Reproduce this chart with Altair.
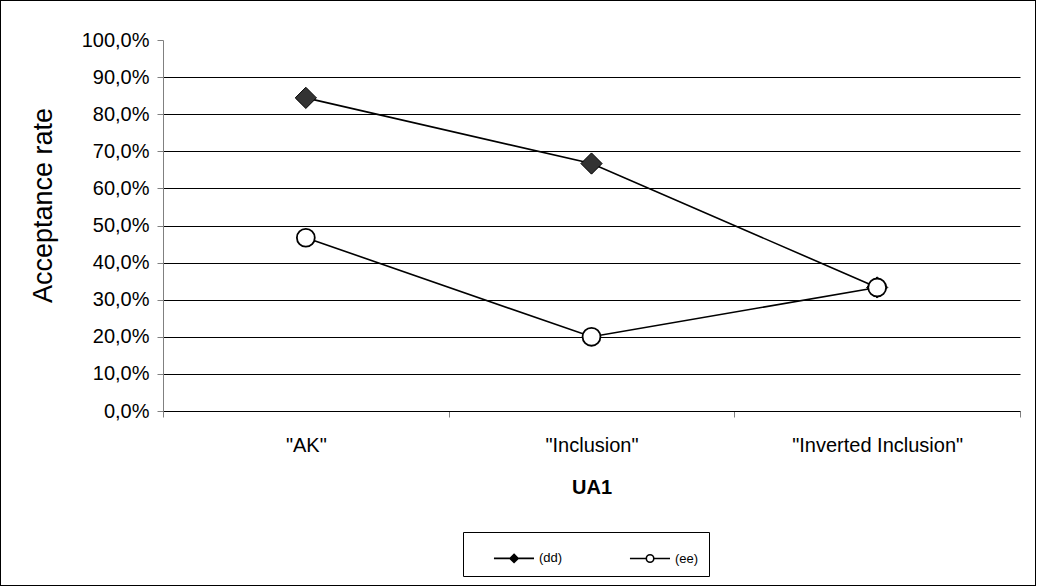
import altair as alt
import pandas as pd

categories = ['"AK"', '"Inclusion"', '"Inverted Inclusion"']
dd_values = [0.844, 0.667, 0.333]
ee_values = [0.467, 0.200, 0.333]
series_names = ["(dd)", "(ee)"]
y_ticks = [0.0, 0.1, 0.2, 0.3, 0.4, 0.5, 0.6, 0.7, 0.8, 0.9, 1.0]

rows = []
for c, v in zip(categories, dd_values):
    rows.append({"cat": c, "val": v, "series": series_names[0]})
for c, v in zip(categories, ee_values):
    rows.append({"cat": c, "val": v, "series": series_names[1]})
df = pd.DataFrame(rows)

FONT = "Liberation Sans"
W, H = 857, 371

x_enc = alt.X(
    "cat:N",
    sort=categories,
    scale=alt.Scale(paddingInner=0, paddingOuter=0),
    axis=alt.Axis(
        title="UA1",
        labelAngle=0,
        tickBand="extent",
        tickColor="#808080",
        tickSize=6,
        domainColor="black",
        labelFont=FONT,
        labelFontSize=20,
        labelColor="black",
        labelPadding=18,
        titleFont=FONT,
        titleFontSize=20,
        titleFontWeight="bold",
        titleColor="black",
        titlePadding=22,
        grid=False,
    ),
)
y_enc = alt.Y(
    "val:Q",
    scale=alt.Scale(domain=[0, 1], nice=False),
    axis=alt.Axis(
        title="Acceptance rate",
        values=y_ticks,
        labelExpr="replace(format(datum.value, '.1%'), '.', ',')",
        labelFont=FONT,
        labelFontSize=20,
        labelColor="black",
        labelPadding=8,
        tickColor="#808080",
        tickSize=6,
        domainColor="#808080",
        titleFont=FONT,
        titleFontSize=27,
        titleFontWeight="normal",
        titleColor="black",
        titleAngle=270,
        titleAlign="center",
        titleBaseline="middle",
        titleX=-120,
        titleY=165,
        grid=True,
        gridColor={"condition": {"test": "datum.value >= 1 || datum.value <= 0", "value": "transparent"}, "value": "black"},
        gridWidth=1,
    ),
)

base = alt.Chart(df).encode(x=x_enc, y=y_enc)

lines = base.mark_line(color="black", strokeWidth=1.6).encode(detail="series:N")

dd_pts = base.transform_filter(alt.datum.series == series_names[0]).mark_point(
    shape="diamond", filled=True, fill="#333333", stroke="black", strokeWidth=1, size=450, opacity=1
)
ee_pts = base.transform_filter(alt.datum.series == series_names[1]).mark_point(
    shape="circle", filled=True, fill="white", stroke="black", strokeWidth=1.8, size=320, opacity=1
)

dd_path = ("M0.33,0 L1.4,0 M1.94,0 L3,0 "
           "M1.67,-0.27 L1.94,0 L1.67,0.27 L1.4,0 Z "
           "M1.67,-0.17 L1.84,0 L1.67,0.17 L1.5,0 Z "
           "M1.67,-0.08 L1.75,0 L1.67,0.08 L1.59,0 Z")
ee_path = ("M0.33,0 L1.42,0 M1.92,0 L3,0 "
           "M1.92,0 A0.25,0.25 0 1,1 1.42,0 A0.25,0.25 0 1,1 1.92,0 Z")

legend_carrier = base.mark_point(opacity=0, stroke="black", strokeWidth=1.6, filled=False).encode(
    shape=alt.Shape(
        "series:N",
        scale=alt.Scale(domain=series_names, range=[dd_path, ee_path]),
        legend=alt.Legend(
            title=None,
            orient="none",
            legendX=300,
            legendY=492,
            direction="horizontal",
            strokeColor="black",
            fillColor="white",
            padding=10,
            columnPadding=46,
            symbolSize=900,
            symbolOpacity=1,
            symbolFillColor="transparent",
            symbolStrokeColor="black",
            symbolStrokeWidth=1.6,
            labelFont=FONT,
            labelFontSize=13,
            labelColor="black",
            labelOffset=34,
        ),
    ),
)

frame = alt.Chart(df).mark_rect(fill=None, stroke="black", strokeWidth=1, clip=False).encode(
    x=alt.value(-162.5), x2=alt.value(872.5), y=alt.value(-39.5), y2=alt.value(545.5)
)

chart = alt.layer(frame, lines, legend_carrier, dd_pts, ee_pts).properties(
    width=W,
    height=H,
    autosize=alt.AutoSizeParams(type="none"),
    padding={"left": 163, "top": 40, "right": 17, "bottom": 175},
    background="white",
).configure_view(stroke=None)

chart.save("out.html", embed_options={"renderer": "svg", "actions": False})
